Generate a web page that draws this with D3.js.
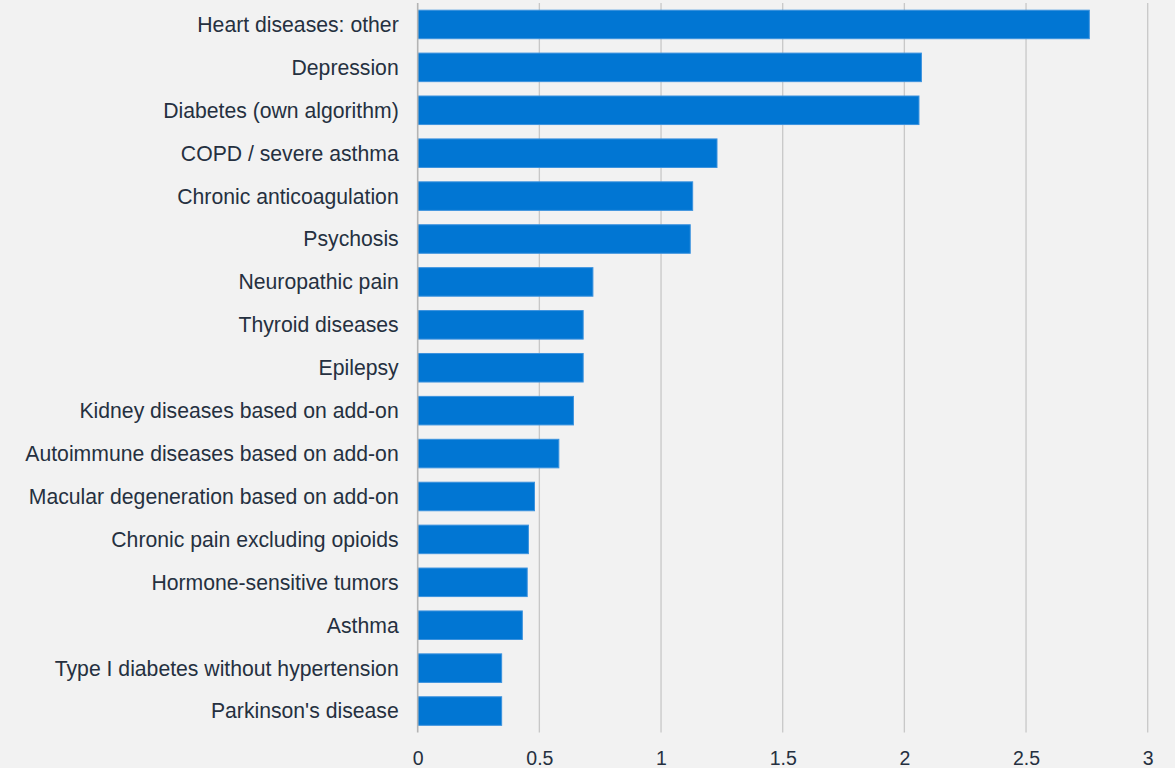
<!DOCTYPE html>
<html>
<head>
<meta charset="utf-8">
<script src="https://cdn.jsdelivr.net/npm/d3@7/dist/d3.min.js"></script>
<style>
  html, body { margin: 0; padding: 0; background: #f2f2f2; }
  svg { display: block; }
  text { font-family: "Liberation Sans", Arial, sans-serif; fill: #253040; }
</style>
</head>
<body>
<svg id="chart" width="1175" height="768"></svg>
<script>
// Conditions, in display order (largest first)
const categories = [
  "Heart diseases: other",
  "Depression",
  "Diabetes (own algorithm)",
  "COPD / severe asthma",
  "Chronic anticoagulation",
  "Psychosis",
  "Neuropathic pain",
  "Thyroid diseases",
  "Epilepsy",
  "Kidney diseases based on add-on",
  "Autoimmune diseases based on add-on",
  "Macular degeneration based on add-on",
  "Chronic pain excluding opioids",
  "Hormone-sensitive tumors",
  "Asthma",
  "Type I diabetes without hypertension",
  "Parkinson's disease"
];
const values = [2.76, 2.07, 2.06, 1.23, 1.13, 1.12, 0.72, 0.68, 0.68, 0.64, 0.58, 0.48, 0.455, 0.45, 0.43, 0.345, 0.345];
const tickValues = [0, 0.5, 1, 1.5, 2, 2.5, 3];

const svg = d3.select("#chart");
const plot = { left: 417.7, right: 1147.7, top: 3, bottom: 732.5 };

const x = d3.scaleLinear().domain([0, 3]).range([plot.left, plot.right]);
const y = d3.scaleBand().domain(categories).range([plot.top, plot.bottom]).paddingInner(0.335).paddingOuter(0.1675);

// vertical gridlines
svg.append("g").selectAll("line")
  .data(tickValues.slice(1))
  .join("line")
  .attr("x1", d => x(d)).attr("x2", d => x(d))
  .attr("y1", plot.top).attr("y2", plot.bottom)
  .attr("stroke", "#c8c8c8").attr("stroke-width", 1.3);

// bars
svg.append("g").selectAll("rect")
  .data(categories)
  .join("rect")
  .attr("x", x(0))
  .attr("y", d => y(d))
  .attr("width", (d, i) => x(values[i]) - x(0))
  .attr("height", y.bandwidth())
  .attr("fill", "#0176d3")
  .attr("stroke", "#3b92de")
  .attr("stroke-width", 1);

// zero axis line
svg.append("line")
  .attr("x1", x(0)).attr("x2", x(0))
  .attr("y1", plot.top).attr("y2", plot.bottom)
  .attr("stroke", "#b4b4b4").attr("stroke-width", 1.6);

// category labels
svg.append("g").selectAll("text")
  .data(categories)
  .join("text")
  .attr("x", x(0) - 19)
  .attr("y", d => y(d) + y.bandwidth() / 2)
  .attr("dy", "0.35em")
  .attr("text-anchor", "end")
  .style("font-size", "21.2px")
  .text(d => d);

// x axis tick labels
const xAxis = d3.axisBottom(x).tickValues(tickValues).tickSize(0).tickPadding(0).tickFormat(d3.format("~g"));
const gx = svg.append("g").attr("transform", `translate(0, 751)`).call(xAxis);
gx.select(".domain").remove();
gx.selectAll("text")
  .attr("dy", "0.71em")
  .style("font-size", "19.5px")
  .style("font-family", "'Liberation Sans', Arial, sans-serif")
  .attr("fill", "#253040");
</script>
</body>
</html>
